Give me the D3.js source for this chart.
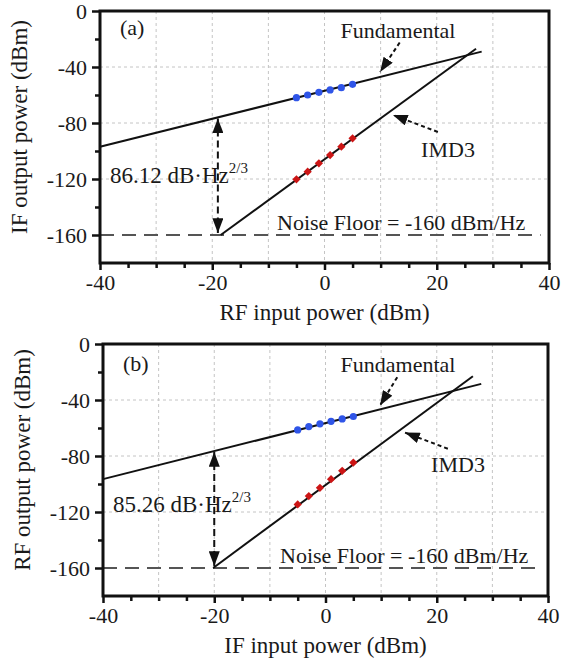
<!DOCTYPE html>
<html><head><meta charset="utf-8">
<script src="https://cdn.jsdelivr.net/npm/d3@7"></script>
<style>
body{margin:0;background:#fff;}
text{font-family:"Liberation Serif","Times New Roman",serif;fill:#1a1a1a;}
</style></head>
<body><svg id="c" width="574" height="661"></svg>
<script>
// ---- data ----
const xTicks = [-40, -20, 0, 20, 40];
const yTicks = [0, -40, -80, -120, -160];
const measX = [-5, -3, -1, 1, 3, 5];
const fundA = [-61.9, -60.0, -58.1, -56.4, -54.8, -52.4];
const imdA  = [-120.2, -114.8, -108.8, -102.9, -96.9, -90.9];
const fundB = [-61.4, -59.0, -57.0, -55.2, -53.5, -51.8];
const imdB  = [-114.6, -108.6, -102.7, -96.6, -90.6, -84.7];
const fundLineA = [[-40, -97], [28, -29]];
const imdLineA  = [[-18.5, -160], [27, -27]];
const fundLineB = [[-40, -96.5], [28, -28.5]];
const imdLineB  = [[-20.2, -160], [26.5, -23]];
const noiseFloor = -160;
const sfdrA = "86.12", sfdrB = "85.26";

const svg = d3.select("#c");
const defs = svg.append("defs");
defs.append("marker").attr("id","ah").attr("viewBox","0 0 16 12")
  .attr("refX",16).attr("refY",6).attr("markerWidth",15).attr("markerHeight",11)
  .attr("markerUnits","userSpaceOnUse").attr("orient","auto-start-reverse")
  .append("path").attr("d","M0,0 L16,6 L0,12 Z").attr("fill","#111");

const FONT = "'Liberation Serif', 'Times New Roman', serif";
const panels = [
  {tag:"(a)", left:100, top:11, w:449, h:252, fund:fundA, imd:imdA, fl:fundLineA, il:imdLineA,
   sfdr:sfdrA, xlab:"RF input power (dBm)", ylab:"IF output power (dBm)", arrowX:-19,
   fArrow:[[13.4,-22.5],[9.9,-43.6]], iArrow:[[20.2,-86.4],[12.2,-74.3]],
   tagPos:[20,24], fundPos:[298,27], imdPos:[348,146], nfPos:[177,219], sfdrPos:[10,172]},
  {tag:"(b)", left:103, top:344, w:445, h:252, fund:fundB, imd:imdB, fl:fundLineB, il:imdLineB,
   sfdr:sfdrB, xlab:"IF input power (dBm)", ylab:"RF output power (dBm)", arrowX:-20,
   fArrow:[[12.9,-23.7],[9.8,-43.9]], iArrow:[[22.0,-74.8],[14.3,-63.3]],
   tagPos:[20,27], fundPos:[295,28], imdPos:[355,128], nfPos:[177,219], sfdrPos:[10,168]}
];

panels.forEach(p => {
  const g = svg.append("g").attr("transform",`translate(${p.left},${p.top})`);
  const x = d3.scaleLinear().domain([-40,40]).range([0,p.w]);
  const y = d3.scaleLinear().domain([-180,0]).range([p.h,0]);

  // grid
  const gx = d3.range(-30, 40, 10), gy = [-40,-80,-120];
  g.selectAll(".vg").data(gx).join("line")
    .attr("x1",d=>x(d)).attr("x2",d=>x(d)).attr("y1",0).attr("y2",p.h)
    .attr("stroke","#c4c4c4").attr("stroke-width",1).attr("stroke-dasharray","3,3");
  g.selectAll(".hg").data(gy).join("line")
    .attr("y1",d=>y(d)).attr("y2",d=>y(d)).attr("x1",0).attr("x2",p.w)
    .attr("stroke","#c4c4c4").attr("stroke-width",1).attr("stroke-dasharray","3,3");

  // noise floor
  g.append("line").attr("x1",x(-40)).attr("x2",x(38.5)).attr("y1",y(noiseFloor)).attr("y2",y(noiseFloor))
    .attr("stroke","#555").attr("stroke-width",2).attr("stroke-dasharray","14,8");

  // axes
  const fmt = d => String(d);
  const xa = g.append("g").attr("transform",`translate(0,${p.h})`)
    .call(d3.axisBottom(x).tickValues(xTicks).tickSize(7).tickPadding(4).tickFormat(fmt));
  g.append("g").attr("transform",`translate(0,${p.h})`)
    .call(d3.axisBottom(x).tickValues(d3.range(-35,40,10).concat(d3.range(-30,40,20))).tickSize(5).tickFormat(""))
    .call(s=>s.select(".domain").remove());
  const ya = g.append("g")
    .call(d3.axisLeft(y).tickValues(yTicks).tickSize(8).tickPadding(5).tickFormat(fmt));
  g.append("g")
    .call(d3.axisLeft(y).tickValues([-20,-60,-100,-140]).tickSize(5).tickFormat(""))
    .call(s=>s.select(".domain").remove());
  [xa, ya].forEach(a => {
    a.attr("font-family", null).attr("font-size", null);
    a.select(".domain").remove();
    a.selectAll(".tick text").style("font-family", FONT).style("font-size","22px").style("fill","#1a1a1a");
  });
  g.selectAll(".tick line").attr("stroke","#111").attr("stroke-width",2.5);
  // frame
  g.append("rect").attr("width",p.w).attr("height",p.h).attr("fill","none")
    .attr("stroke","#111").attr("stroke-width",3);

  // fitted lines
  const ln = d3.line().x(d=>x(d[0])).y(d=>y(d[1]));
  g.append("path").attr("d",ln(p.fl)).attr("stroke","#111").attr("stroke-width",2).attr("fill","none");
  g.append("path").attr("d",ln(p.il)).attr("stroke","#111").attr("stroke-width",2).attr("fill","none");

  // markers
  g.selectAll(".fm").data(measX.map((v,i)=>[v,p.fund[i]])).join("circle")
    .attr("cx",d=>x(d[0])).attr("cy",d=>y(d[1])).attr("r",3.6).attr("fill","#2f55e8");
  g.selectAll(".im").data(measX.map((v,i)=>[v,p.imd[i]])).join("path")
    .attr("d",d3.symbol().type(d3.symbolSquare).size(34))
    .attr("transform",d=>`translate(${x(d[0])},${y(d[1])}) rotate(45)`).attr("fill","#cc1515");

  // double arrow (SFDR)
  const fAt = p.fl[0][1] + (p.arrowX - p.fl[0][0]) * (p.fl[1][1]-p.fl[0][1])/(p.fl[1][0]-p.fl[0][0]);
  g.append("line").attr("x1",x(p.arrowX)).attr("x2",x(p.arrowX)).attr("y1",y(fAt)+1).attr("y2",y(noiseFloor)-2)
    .attr("stroke","#111").attr("stroke-width",2).attr("stroke-dasharray","7,4")
    .attr("marker-start","url(#ah)").attr("marker-end","url(#ah)");

  // label arrows
  [p.fArrow, p.iArrow].forEach(a => {
    g.append("line").attr("x1",x(a[0][0])).attr("y1",y(a[0][1])).attr("x2",x(a[1][0])).attr("y2",y(a[1][1]))
      .attr("stroke","#111").attr("stroke-width",2).attr("stroke-dasharray","4,3").attr("marker-end","url(#ah)");
  });

  // texts
  const t = (pos, s, anchor, fs) => g.append("text").attr("x",pos[0]).attr("y",pos[1])
    .attr("text-anchor",anchor||"start").style("font-size",(fs||22)+"px").text(s);
  t(p.tagPos, p.tag);
  t(p.fundPos, "Fundamental", "middle");
  t(p.imdPos, "IMD3", "middle");
  t(p.nfPos, "Noise Floor = -160 dBm/Hz");
  const st = t(p.sfdrPos, p.sfdr + " dB\u00B7Hz", "start", 23);
  st.append("tspan").attr("dy",-10).style("font-size","15px").text("2/3");

  // axis titles
  g.append("text").attr("x",p.w/2).attr("y",p.h+57).attr("text-anchor","middle")
    .style("font-size","23px").text(p.xlab);
  g.append("text").attr("transform",`translate(${-73},${p.h/2 - 10}) rotate(-90)`)
    .attr("text-anchor","middle").style("font-size","23px").text(p.ylab);
});
</script></body></html>
